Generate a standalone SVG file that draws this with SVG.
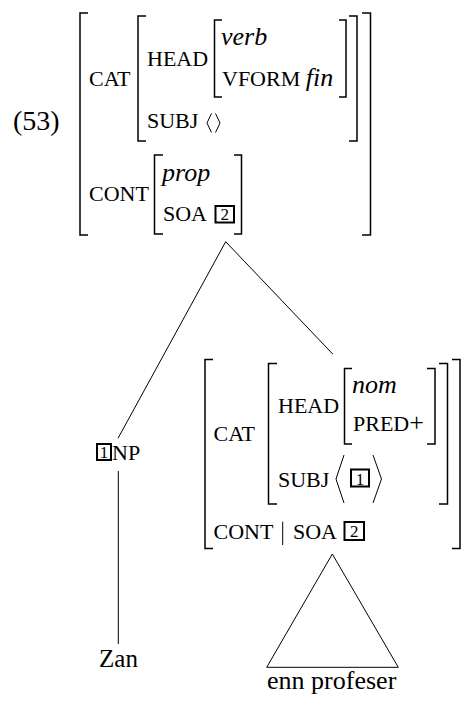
<svg xmlns="http://www.w3.org/2000/svg" width="463" height="702" viewBox="0 0 463 702">
<style>
text{font-family:"Liberation Serif","Times New Roman",serif;fill:#000}
.lb{font-size:22px}
.it{font-size:26px;font-style:italic}
.rm{font-size:26px}
.tg{font-size:17px}
.br{fill:none;stroke:#000;stroke-width:1.5}
.bx{fill:none;stroke:#000;stroke-width:2}
.ln{fill:none;stroke:#000;stroke-width:1}
</style>
<rect width="463" height="702" fill="#fff"/>
<text x="13" y="130" style="font-size:28px">(53)</text>
<g id="top-avm">
<path class="br" d="M88,13H80V235H88M362,13H370.5V235H362"/>
<path class="br" d="M146,16H138V141H146M349,16H357V141H349"/>
<path class="br" d="M222,20H214.5V97H222M339,20H346V97H339"/>
<path class="br" d="M163,155H154.5V234H163M234,155H241.5V234H234"/>
<text class="lb" x="89" y="86">CAT</text>
<text class="lb" x="147" y="66">HEAD</text>
<text class="it" x="221" y="45">verb</text>
<text class="lb" x="222" y="86">VFORM <tspan class="it">fin</tspan></text>
<text class="lb" x="147" y="128">SUBJ</text>
<path class="ln" d="M211.5,113.5L207,123L211.5,132.5M215.5,113.5L220,123L215.5,132.5"/>
<text class="lb" x="89" y="201">CONT</text>
<text class="it" x="162" y="181">prop</text>
<text class="lb" x="163" y="221">SOA</text>
<rect class="bx" x="215.5" y="206" width="18.5" height="16.5"/>
<text class="tg" x="224.7" y="220" text-anchor="middle">2</text>
</g>
<g id="np">
<rect class="bx" x="97" y="444" width="14" height="16"/>
<text class="tg" x="104" y="458" text-anchor="middle">1</text>
<text class="lb" x="112" y="459.5">NP</text>
</g>
<g id="pred-avm">
<path class="br" d="M213,359.5H205V548.5H213M452,359.5H460V548.5H452"/>
<path class="br" d="M277,363.5H268.5V504H277M439,363.5H447.5V504H439"/>
<path class="br" d="M352,368.5H344.5V444H352M427,368.5H435V444H427"/>
<text class="lb" x="213.5" y="441">CAT</text>
<text class="lb" x="278" y="413">HEAD</text>
<text class="it" x="352" y="393">nom</text>
<text class="lb" x="353" y="431">PRED<tspan class="rm">+</tspan></text>
<text class="lb" x="278" y="487">SUBJ</text>
<path class="ln" d="M344,455L336,479L344,503M373,455L381.5,479L373,503"/>
<rect class="bx" x="351" y="469.5" width="18" height="17"/>
<text class="tg" x="360" y="484.5" text-anchor="middle">1</text>
<text class="lb" x="213.5" y="538.5">CONT</text>
<path class="ln" d="M282.7,521.7V545"/>
<text class="lb" x="293" y="538.5">SOA</text>
<rect class="bx" x="344.5" y="522" width="19.5" height="18"/>
<text class="tg" x="354.2" y="537" text-anchor="middle">2</text>
</g>
<g id="zan"><text class="rm" x="118.5" y="666.7" text-anchor="middle" style="font-size:25px">Zan</text></g>
<g id="enn-profeser"><text class="rm" x="331.7" y="689.3" text-anchor="middle">enn profeser</text></g>
<g id="connectors">
<path class="ln" d="M225.7,241.7L118,438.3M225.7,241.7L332.7,354"/>
<path class="ln" d="M118.3,471V644"/>
<path class="ln" d="M332.3,554L266.7,667.3H398.3Z"/>
</g>
</svg>
